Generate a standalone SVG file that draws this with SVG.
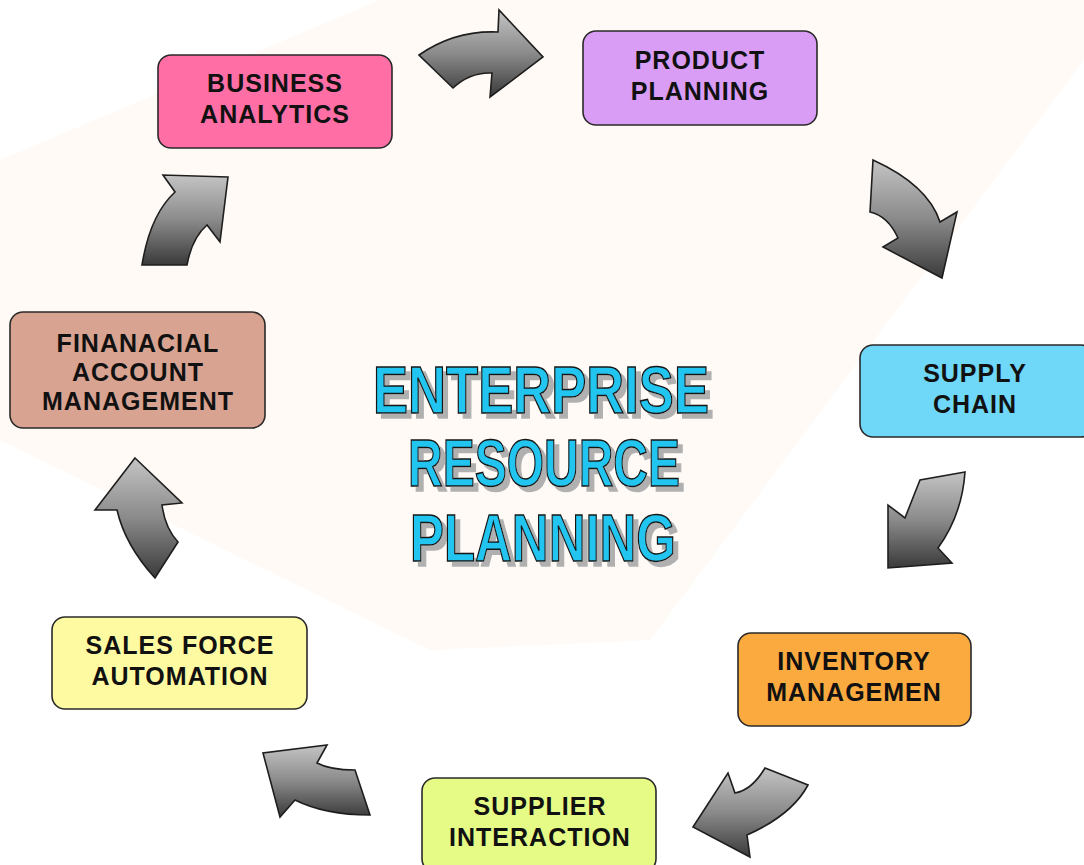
<svg xmlns="http://www.w3.org/2000/svg" width="1084" height="865" viewBox="0 0 1084 865">
  <defs>
    <linearGradient id="ag" x1="0" y1="0" x2="0" y2="1">
      <stop offset="0" stop-color="#c4c4c4"/>
      <stop offset="0.5" stop-color="#8a8a8a"/>
      <stop offset="1" stop-color="#3a3a3a"/>
    </linearGradient>
    <filter id="tsh" x="-5%" y="-20%" width="115%" height="150%">
      <feOffset in="SourceAlpha" dx="5" dy="5" result="o"/>
      <feFlood flood-color="#b0b0b0"/>
      <feComposite in2="o" operator="in" result="s"/>
      <feMerge>
        <feMergeNode in="s"/>
        <feMergeNode in="SourceGraphic"/>
      </feMerge>
    </filter>
    <style>
      .box{stroke:#2a2a2a;stroke-width:1.6}
      .lbl{font-family:"Liberation Sans",Arial,sans-serif;font-weight:bold;font-size:25px;letter-spacing:1px;fill:#111;text-anchor:middle}
      .arr{fill:url(#ag);stroke:#1e1e1e;stroke-width:1.6;stroke-linejoin:miter}
      .title{font-family:"Liberation Sans",Arial,sans-serif;font-weight:bold;font-size:66px;text-anchor:middle;fill:#22c5ef;stroke:#141414;stroke-width:1.5}
    </style>
  </defs>
  <rect width="1084" height="865" fill="#ffffff"/>
  <polygon points="0,160 380,0 1084,0 1084,60 650,640 430,650 0,440" fill="#fffaf5"/>

  <g id="connectors">
    <path class="arr" d="M419,55 Q455,30 498,32 L499,10 L543,57 L490,97 L492,73 Q470,72 453,88 Z"/>
    <path class="arr" d="M873,160 Q928,185 940,222 L957,212 L942,278 L883,247 L898,238 Q888,216 870,212 Z"/>
    <path class="arr" d="M965,472 L920,480 Q912,500 905,518 L888,505 L888,568 L952,563 L938,548 Q962,515 965,472 Z"/>
    <path class="arr" d="M765,768 L808,785 Q792,815 747,835 L750,857 L693,827 L728,773 L735,793 Q752,790 765,768 Z"/>
    <path class="arr" d="M370,815 L355,770 Q330,770 317,763 L327,745 L263,753 L280,817 L295,800 Q325,815 370,815 Z"/>
    <path class="arr" d="M135,458 L182,503 L162,505 Q165,528 178,542 L155,578 Q125,545 117,510 L95,510 Z"/>
    <path class="arr" d="M228,177 L163,175 L175,192 Q150,215 142,265 L187,265 Q192,238 207,225 L220,242 Z"/>
  </g>

  <g id="business-analytics">
    <rect class="box" x="158" y="55" width="234" height="93" rx="13" fill="#ff6fa6"/>
    <text class="lbl" x="275" y="92">BUSINESS</text>
    <text class="lbl" x="275" y="123">ANALYTICS</text>
  </g>
  <g id="product-planning">
    <rect class="box" x="583" y="31" width="234" height="94" rx="13" fill="#da9df6"/>
    <text class="lbl" x="700" y="69">PRODUCT</text>
    <text class="lbl" x="700" y="100">PLANNING</text>
  </g>
  <g id="supply-chain">
    <rect class="box" x="860" y="345" width="234" height="92" rx="13" fill="#6fd7f8"/>
    <text class="lbl" x="975" y="382">SUPPLY</text>
    <text class="lbl" x="975" y="413">CHAIN</text>
  </g>
  <g id="inventory-management">
    <rect class="box" x="738" y="633" width="233" height="93" rx="13" fill="#fbaa40"/>
    <text class="lbl" x="854" y="670">INVENTORY</text>
    <text class="lbl" x="854" y="701">MANAGEMEN</text>
  </g>
  <g id="supplier-interaction">
    <rect class="box" x="422" y="778" width="234" height="94" rx="13" fill="#e6fb86"/>
    <text class="lbl" x="540" y="815">SUPPLIER</text>
    <text class="lbl" x="540" y="846">INTERACTION</text>
  </g>
  <g id="sales-force-automation">
    <rect class="box" x="52" y="617" width="255" height="92" rx="13" fill="#fefaa2"/>
    <text class="lbl" x="180" y="654">SALES FORCE</text>
    <text class="lbl" x="180" y="685">AUTOMATION</text>
  </g>
  <g id="financial-account-management">
    <rect class="box" x="10" y="312" width="255" height="116" rx="13" fill="#d9a391"/>
    <text class="lbl" x="138" y="352">FINANACIAL</text>
    <text class="lbl" x="138" y="381">ACCOUNT</text>
    <text class="lbl" x="138" y="410">MANAGEMENT</text>
  </g>

  <g id="title" filter="url(#tsh)">
    <text class="title" x="541" y="413" textLength="336" lengthAdjust="spacingAndGlyphs">ENTERPRISE</text>
    <text class="title" x="544" y="486" textLength="272" lengthAdjust="spacingAndGlyphs">RESOURCE</text>
    <text class="title" x="543" y="561" textLength="266" lengthAdjust="spacingAndGlyphs">PLANNING</text>
  </g>
</svg>
